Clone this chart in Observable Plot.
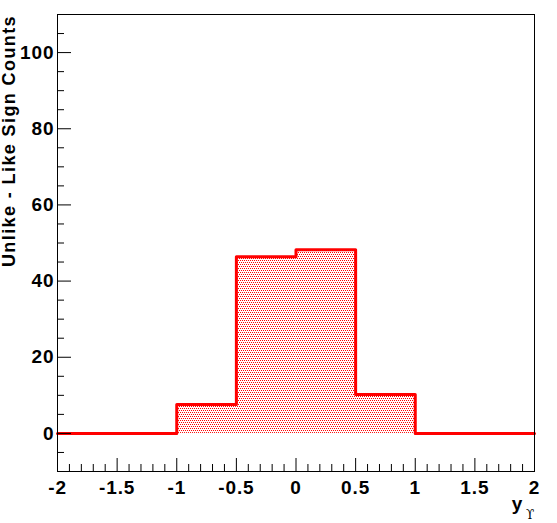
<!DOCTYPE html>
<html><head><meta charset="utf-8">
<script src="https://cdn.jsdelivr.net/npm/d3@7"></script>
<script src="https://cdn.jsdelivr.net/npm/@observablehq/plot@0.6"></script>
<style>html,body{margin:0;padding:0;background:#fff}svg{display:block}</style>
</head><body><div id="chart"></div>
<script>
// Histogram bins (edges) and contents
const binEdges = [-2, -1.5, -1, -0.5, 0, 0.5, 1, 1.5, 2];
const counts = [0, 0, 7.6, 46.4, 48.2, 10.2, 0, 0];

// Axis ticks and labels
const xMajorTicks = [-2, -1.5, -1, -0.5, 0, 0.5, 1, 1.5, 2];
const xTickLabels = ["-2", "-1.5", "-1", "-0.5", "0", "0.5", "1", "1.5", "2"];
const xMinorTicks = d3.range(-19, 20).map(v => v / 10).filter(v => !xMajorTicks.includes(v));
const yMajorTicks = [0, 20, 40, 60, 80, 100];
const yTickLabels = ["0", "20", "40", "60", "80", "100"];
const yMinorTicks = d3.range(-5, 110, 5).filter(v => !yMajorTicks.includes(v));

const yTitle = "Unlike - Like Sign Counts";
const xTitle = "y";
const xTitleSub = "\u03D2";

const bins = counts.map((c, i) => ({x1: binEdges[i], x2: binEdges[i + 1], y: c}));
const outline = binEdges.map((e, i) => ({x: e, y: counts[Math.min(i, counts.length - 1)]}));

const FONT = "Liberation Sans, Arial, Helvetica, sans-serif";
const ns = "http://www.w3.org/2000/svg";
const defsMark = () => {
  const d = document.createElementNS(ns, "defs");
  d.innerHTML = `<pattern id="dots" x="0" y="0" width="2" height="4" patternUnits="userSpaceOnUse">
    <rect x="0" y="0" width="1" height="1" fill="#ff0000"/>
    <rect x="1" y="2" width="1" height="1" fill="#ff0000"/></pattern>`;
  return d;
};
const titlesMark = (index, scales, values, dims) => {
  const g = document.createElementNS(ns, "g");
  const right = dims.width - dims.marginRight;
  const bottom = dims.height - dims.marginBottom;
  g.innerHTML = `<text transform="translate(14.5,${dims.marginTop + 1}) rotate(-90)" text-anchor="end" font-size="18" font-weight="bold" letter-spacing="1.4" font-family="${FONT}" fill="black">${yTitle}</text>
  <text x="${right - 17}" y="${bottom + 38.5}" font-size="19" font-weight="bold" letter-spacing="0" font-family="${FONT}" fill="black">${xTitle}</text>
  <text x="${right - 4}" y="${bottom + 47.5}" font-size="12" font-weight="normal" letter-spacing="0" font-family="DejaVu Serif, Liberation Serif, serif" fill="black">${xTitleSub}</text>`;
  return g;
};

const chart = Plot.plot({
  width: 557,
  height: 523,
  marginLeft: 57,
  marginRight: 23,
  marginTop: 14,
  marginBottom: 52,
  style: {fontFamily: FONT, fontSize: "19px", fontWeight: "bold", color: "black", background: "white", letterSpacing: "0.9px"},
  x: {domain: [-2, 2]},
  y: {domain: [-10, 110]},
  marks: [
    defsMark,
    Plot.rectY(bins, {x1: "x1", x2: "x2", y1: 0, y2: "y", fill: "url(#dots)"}),
    Plot.line(outline, {x: "x", y: "y", curve: "step-after", stroke: "#ff0000", strokeWidth: 3}),
    Plot.frame({stroke: "black", strokeWidth: 1}),
    Plot.axisX(xMajorTicks, {anchor: "bottom", tickSize: 13, dy: -13, fill: "none", label: null}),
    Plot.axisX(xMinorTicks, {anchor: "bottom", tickSize: 7, dy: -7, fill: "none", label: null}),
    Plot.axisX(xMajorTicks, {anchor: "bottom", tickSize: 0, tickPadding: 8.5, fontSize: 19, fontWeight: "bold", fontFamily: FONT, tickFormat: d => xTickLabels[xMajorTicks.indexOf(d)], label: null}),
    Plot.axisY(yMajorTicks, {anchor: "left", tickSize: 14, dx: 14, fill: "none", label: null}),
    Plot.axisY(yMinorTicks, {anchor: "left", tickSize: 7, dx: 7, fill: "none", label: null}),
    Plot.axisY(yMajorTicks, {anchor: "left", tickSize: 0, tickPadding: 3, fontSize: 19, fontWeight: "bold", fontFamily: FONT, tickFormat: d => yTickLabels[yMajorTicks.indexOf(d)], label: null}),
    titlesMark
  ]
});
document.getElementById("chart").append(chart);
</script>
</body></html>
